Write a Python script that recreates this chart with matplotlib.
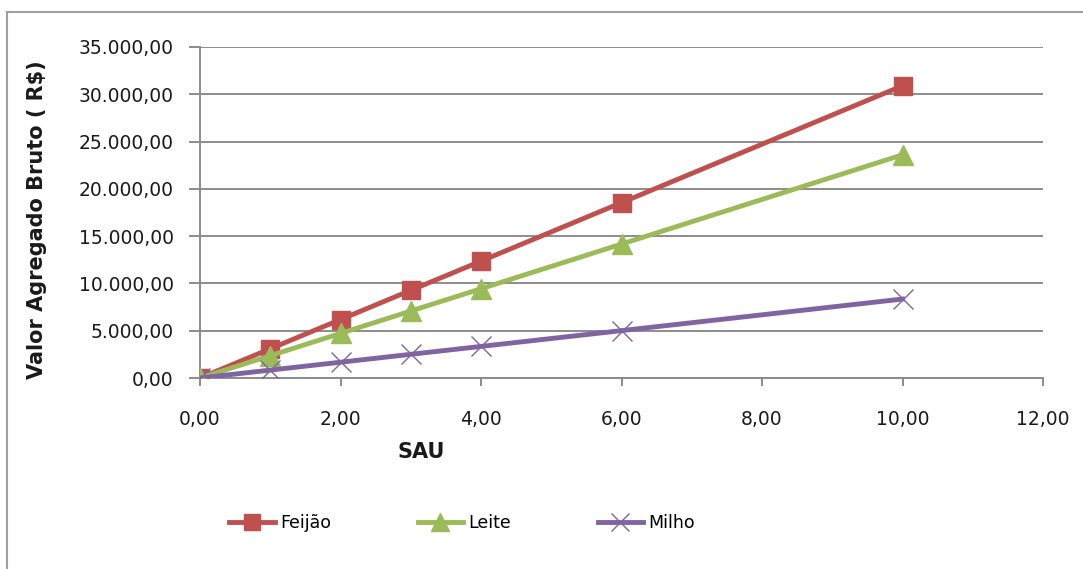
import matplotlib
matplotlib.use("Agg")
from matplotlib import pyplot as plt
from matplotlib.lines import Line2D
from matplotlib.ticker import FuncFormatter

# SAU (area) vs gross added value per crop
sau = [0, 1, 2, 3, 4, 6, 10]
feijao = [0, 3090, 6180, 9270, 12360, 18540, 30900]
leite = [0, 2360, 4720, 7080, 9440, 14160, 23600]
milho = [0, 835, 1670, 2505, 3340, 5010, 8350]

series_names = ['Feijão', 'Leite', 'Milho']
RED = '#C0504D'
GREEN = '#9BBB59'
PURPLE = '#8064A2'
GRID = '#8C8C8C'


def br_number(v, _pos=None):
    # 35000 -> "35.000,00"
    s = f"{v:,.2f}"
    return s.replace(',', '#').replace('.', ',').replace('#', '.')


fig = plt.figure(figsize=(10.83, 5.69), dpi=100)
ax = fig.add_axes([200 / 1083, 1 - 378 / 569, 843 / 1083, 331 / 569])

ax.plot(sau, feijao, color=RED, lw=3.5, marker='s', ms=13, mec=RED, label=series_names[0], zorder=3)
ax.plot(sau, leite, color=GREEN, lw=3.5, marker='^', ms=14, mec=GREEN, label=series_names[1], zorder=3)
ax.plot(sau, milho, color=PURPLE, lw=3.5, marker='x', ms=15, mew=1.0, label=series_names[2], zorder=3)

ax.set_xlim(0, 12)
ax.set_ylim(0, 35000)
ax.set_xticks(range(0, 13, 2))
ax.set_yticks(range(0, 35001, 5000))
ax.xaxis.set_major_formatter(FuncFormatter(br_number))
ax.yaxis.set_major_formatter(FuncFormatter(br_number))

ax.grid(axis='y', color=GRID, lw=1.4)
ax.set_axisbelow(True)
for side in ['top', 'right']:
    ax.spines[side].set_visible(False)
for side in ['left', 'bottom']:
    ax.spines[side].set_color(GRID)
    ax.spines[side].set_linewidth(1.4)

ax.tick_params(axis='y', direction='out', length=8, width=1.4, color=GRID,
               pad=11, labelsize=13.5, labelcolor='#1a1a1a')
ax.tick_params(axis='x', direction='out', length=6, width=1.4, color=GRID,
               pad=17, labelsize=13.5, labelcolor='#1a1a1a')

fig.text(37 / 1083, 1 - 220 / 569, 'Valor Agregado Bruto ( R$)', rotation=90,
         ha='center', va='center', fontsize=15, fontweight='bold', color='#1a1a1a')
fig.text(421 / 1083, 1 - 452 / 569, 'SAU', ha='center', va='center',
         fontsize=15, fontweight='bold', color='#1a1a1a')

fig.legend(loc='center', bbox_to_anchor=(462 / 1083, 1 - 523 / 569), ncol=3,
           frameon=False, fontsize=12.5, columnspacing=5.0, handlelength=2.6,
           handletextpad=0.3, markerscale=0.9)

# outer chart border (left and top edges)
fig.add_artist(Line2D([7 / 1083, 7 / 1083], [0, 1 - 12 / 569], transform=fig.transFigure,
                      color='#A0A0A0', lw=1.5))
fig.add_artist(Line2D([7 / 1083, 1], [1 - 12 / 569, 1 - 12 / 569], transform=fig.transFigure,
                      color='#A0A0A0', lw=1.5))

fig.savefig('out.png', dpi=100)
